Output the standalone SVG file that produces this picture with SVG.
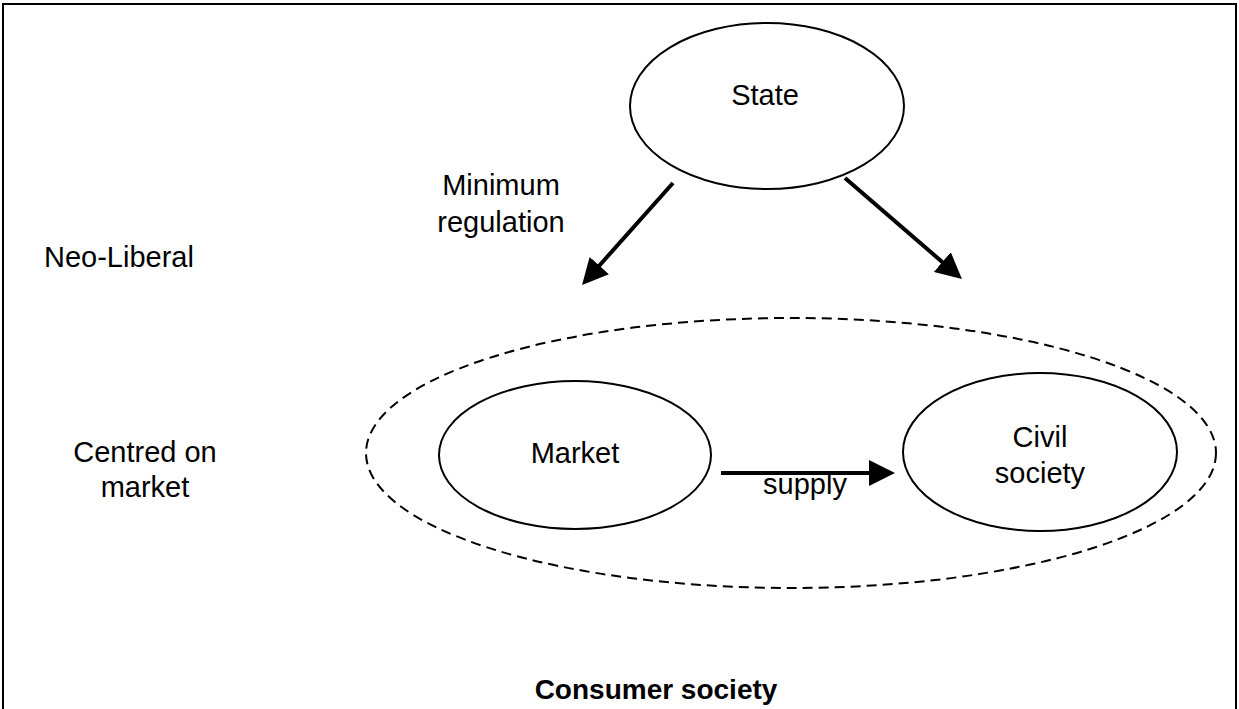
<svg xmlns="http://www.w3.org/2000/svg" width="1239" height="709" viewBox="0 0 1239 709">
  <style>
    .frame { fill: none; stroke: #000; stroke-width: 2; }
    .node { fill: #fff; stroke: #000; stroke-width: 2; }
    .group { fill: none; stroke: #000; stroke-width: 2; stroke-dasharray: 10 6; }
    .edge { fill: none; stroke: #000; stroke-width: 4; }
    text { font-family: "Liberation Sans", Arial, sans-serif; font-size: 29px; fill: #000; }
    .c { text-anchor: middle; }
    .b { font-weight: bold; font-size: 28px; }
  </style>
  <defs>
    <!-- filled triangular head, tip 10px past the end of the line -->
    <marker id="head" viewBox="0 0 6.5 6.5" markerWidth="6.5" markerHeight="6.5" refX="4" refY="3.25" orient="auto" markerUnits="strokeWidth">
      <path d="M0,0 L6.5,3.25 L0,6.5 z" fill="#000"/>
    </marker>
  </defs>

  <rect width="1239" height="709" fill="#fff"/>
  <!-- open frame: top, left and right sides -->
  <path class="frame" d="M3,709 V4 H1236 V709"/>

  <!-- dashed boundary round the market and civil society -->
  <g id="consumer-boundary">
    <ellipse class="group" cx="791" cy="453" rx="425" ry="135"/>
  </g>

  <g id="state">
    <ellipse class="node" cx="767" cy="106" rx="137" ry="83"/>
    <text class="c" x="765" y="105">State</text>
  </g>

  <g id="market">
    <ellipse class="node" cx="575" cy="455" rx="136" ry="74"/>
    <text class="c" x="575" y="463">Market</text>
  </g>

  <g id="civil-society">
    <ellipse class="node" cx="1040" cy="452" rx="137" ry="79"/>
    <text class="c" x="1040" y="447">Civil</text>
    <text class="c" x="1040" y="483">society</text>
  </g>

  <g id="connectors">
    <line class="edge" x1="673" y1="183" x2="588.7" y2="277.5" marker-end="url(#head)"/>
    <line class="edge" x1="845" y1="178" x2="954.4" y2="272.5" marker-end="url(#head)"/>
    <line class="edge" x1="721" y1="473" x2="885" y2="473" marker-end="url(#head)"/>
  </g>

  <g id="labels">
    <text class="c" x="501" y="195">Minimum</text>
    <text class="c" x="501" y="232">regulation</text>
    <text x="44" y="267">Neo-Liberal</text>
    <text class="c" x="145" y="462">Centred on</text>
    <text class="c" x="145" y="497">market</text>
    <text class="c" x="805" y="494">supply</text>
    <text class="c b" x="656" y="699">Consumer society</text>
  </g>
</svg>
